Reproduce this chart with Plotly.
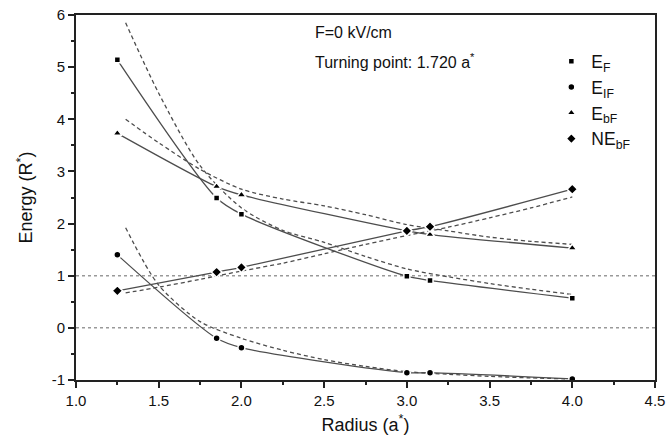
import plotly.graph_objects as go

# Radius values of the computed points (a*)
radius = [1.25, 1.85, 2.0, 3.0, 3.14, 4.0]

# Energies (R*) at each radius
e_f = [5.14, 2.49, 2.18, 0.99, 0.91, 0.57]
e_if = [1.40, -0.20, -0.38, -0.86, -0.86, -0.98]
e_bf = [3.73, 2.71, 2.55, 1.86, 1.79, 1.53]
ne_bf = [0.71, 1.07, 1.16, 1.86, 1.94, 2.66]

# Comparison curves (dashed)
cmp_x = [1.3, 1.5, 1.75, 2.0, 2.25, 2.5, 2.75, 3.0, 3.25, 3.5, 3.75, 4.0]
cmp_e_f = [5.85, 4.50, 3.11, 2.30, 1.87, 1.64, 1.37, 1.13, 0.98, 0.85, 0.74, 0.64]
cmp_e_if = [1.92, 0.82, 0.12, -0.20, -0.43, -0.61, -0.74, -0.84, -0.89, -0.93, -0.96, -0.98]
cmp_e_bf = [4.00, 3.55, 3.04, 2.66, 2.47, 2.34, 2.17, 1.98, 1.86, 1.74, 1.66, 1.60]
cmp_ne_bf = [0.67, 0.78, 0.93, 1.09, 1.24, 1.42, 1.60, 1.77, 1.93, 2.11, 2.30, 2.51]

# Axis tick labels
x_ticks = [1.0, 1.5, 2.0, 2.5, 3.0, 3.5, 4.0, 4.5]
x_tick_text = ["1.0", "1.5", "2.0", "2.5", "3.0", "3.5", "4.0", "4.5"]
y_ticks = [-1, 0, 1, 2, 3, 4, 5, 6]
y_tick_text = ["-1", "0", "1", "2", "3", "4", "5", "6"]

# Reference levels drawn as dotted lines
ref_levels = [0, 1]

FONT = "Liberation Sans, Arial, Helvetica, sans-serif"
LINE_COLOR = "#4d4d4d"
TEXT_COLOR = "#111111"

series = [
    ("E<sub>F</sub>", e_f, cmp_e_f, "square", 6),
    ("E<sub>IF</sub>", e_if, cmp_e_if, "circle", 7),
    ("E<sub>bF</sub>", e_bf, cmp_e_bf, "triangle-up", 8),
    ("NE<sub>bF</sub>", ne_bf, cmp_ne_bf, "diamond", 8),
]

fig = go.Figure()

for name, vals, cmp_vals, symbol, size in series:
    fig.add_trace(go.Scatter(
        x=cmp_x, y=cmp_vals, mode="lines", showlegend=False, hoverinfo="skip",
        line=dict(color=LINE_COLOR, width=1.3, dash="4px,3px", shape="spline", smoothing=0.8),
    ))
    fig.add_trace(go.Scatter(
        x=radius, y=vals, mode="lines", showlegend=False, hoverinfo="skip",
        line=dict(color=LINE_COLOR, width=1.3, shape="spline", smoothing=0.8),
    ))

for name, vals, cmp_vals, symbol, size in series:
    fig.add_trace(go.Scatter(
        x=radius, y=vals, mode="markers", name=name,
        marker=dict(symbol=symbol, size=size, color="black",
                    line=dict(color="white", width=1.5)),
    ))

for lvl in ref_levels:
    fig.add_shape(type="line", xref="paper", yref="y", x0=0, x1=1, y0=lvl, y1=lvl,
                  line=dict(color="#999999", width=1.5, dash="dot"), layer="below")

fig.add_annotation(x=2.43, y=5.66, xref="x", yref="y", text="F=0 kV/cm",
                   showarrow=False, xanchor="left", yanchor="middle",
                   font=dict(family=FONT, size=16, color=TEXT_COLOR))
fig.add_annotation(x=2.43, y=5.12, xref="x", yref="y",
                   text="Turning point: 1.720 a<sup>*</sup>",
                   showarrow=False, xanchor="left", yanchor="middle",
                   font=dict(family=FONT, size=16, color=TEXT_COLOR))

axis_common = dict(
    showline=True, linecolor="#222222", linewidth=2, mirror=True,
    ticks="outside", ticklen=6, tickwidth=1.5, tickcolor="#222222",
    showgrid=False, zeroline=False, automargin=False,
    tickfont=dict(family=FONT, size=15, color=TEXT_COLOR),
)

fig.update_xaxes(
    range=[1.0, 4.5], tickvals=x_ticks, ticktext=x_tick_text,
    minor=dict(ticks="outside", ticklen=3, tickwidth=1.5, tickcolor="#222222", dtick=0.25),
    title=dict(text="Radius (a<sup>*</sup>)", font=dict(family=FONT, size=18, color=TEXT_COLOR),
               standoff=10),
    **axis_common,
)
fig.update_yaxes(
    range=[-1, 6], tickvals=y_ticks, ticktext=y_tick_text,
    minor=dict(ticks="outside", ticklen=3, tickwidth=1.5, tickcolor="#222222", dtick=0.5),
    title=dict(text="Energy (R<sup>*</sup>)", font=dict(family=FONT, size=18, color=TEXT_COLOR),
               standoff=14),
    **axis_common,
)

fig.update_layout(
    width=668, height=442,
    margin=dict(l=76, r=13, t=15, b=62),
    plot_bgcolor="white", paper_bgcolor="white",
    font=dict(family=FONT, color=TEXT_COLOR),
    legend=dict(x=0.821, y=0.922, xanchor="left", yanchor="top",
                bgcolor="rgba(0,0,0,0)", borderwidth=0,
                font=dict(family=FONT, size=17.5, color=TEXT_COLOR),
                itemwidth=30, tracegroupgap=0),
)

fig.write_html("out.html")
